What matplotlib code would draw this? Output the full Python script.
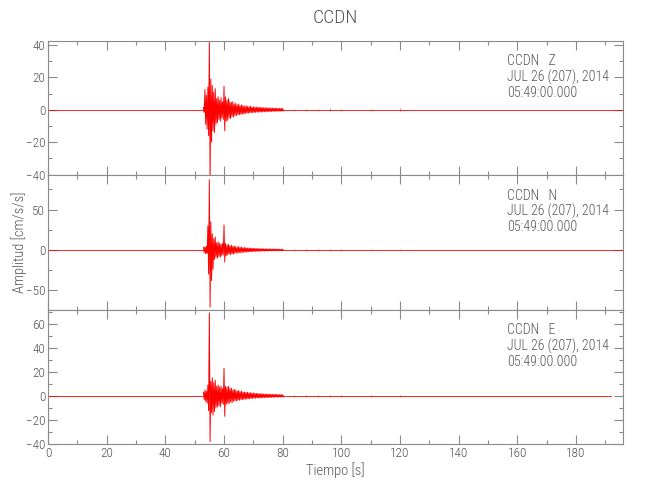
import numpy as np
import matplotlib
matplotlib.use("Agg")
import matplotlib.pyplot as plt
from matplotlib import font_manager
from matplotlib.ticker import MultipleLocator

# pick the narrowest family that is installed
names = set(f.name for f in font_manager.fontManager.ttflist)
fams = [f for f in ['Liberation Sans Narrow', 'Roboto Condensed', 'DejaVu Sans Condensed',
                    'Liberation Sans'] if f in names]
plt.rcParams['font.family'] = fams + ['DejaVu Sans']
plt.rcParams['font.weight'] = 'light'
plt.rcParams['axes.labelweight'] = 'light'

# envelope bins (s), 0.5 s apart
t_env = [53.0, 53.5, 54.0, 54.5, 55.0, 55.5, 56.0, 56.5, 57.0, 57.5,
         58.0, 58.5, 59.0, 59.5, 60.0, 60.5, 61.0, 61.5, 62.0, 62.5,
         63.0, 63.5, 64.0, 64.5, 65.0, 65.5, 66.0, 66.5, 67.0, 67.5,
         68.0, 68.5, 69.0, 69.5, 70.0, 70.5, 71.0, 71.5, 72.0, 72.5,
         73.0, 73.5, 74.0, 74.5, 75.0, 75.5, 76.0, 76.5, 77.0, 77.5,
         78.0, 78.5, 79.0, 79.5, 80.0]

z_up = [1.5, 12.5, 9, 14, 42, 19, 15, 11, 13, 7,
        8, 6, 7.5, 5, 14.5, 8, 6, 7, 5, 4.5,
        5, 3.5, 4, 3, 3.5, 2.5, 3, 2.5, 2, 2.5,
        2, 1.8, 2.2, 1.6, 1.8, 1.5, 1.7, 1.4, 1.6, 1.3,
        1.4, 1.2, 1.3, 1.1, 1.2, 1.0, 1.1, 1.0, 0.9, 1.0,
        0.9, 0.8, 0.9, 0.8, 0.8]
z_lo = [-1.5, -9, -12, -16, -44, -20, -13, -14, -9, -8,
        -6, -7, -5, -6, -13, -7, -6.5, -5, -5.5, -4,
        -4.5, -3.5, -3.5, -3, -3, -2.8, -2.5, -2.6, -2.2, -2,
        -2.1, -1.8, -1.7, -1.8, -1.5, -1.6, -1.4, -1.5, -1.3, -1.4,
        -1.2, -1.3, -1.1, -1.2, -1.0, -1.1, -1.0, -0.9, -1.0, -0.9,
        -0.8, -0.9, -0.8, -0.8, -0.7]

n_up = [3, 4, 4.5, 30, 87, 35, 20, 14, 16, 9,
        10, 8, 7, 8, 31, 8, 6, 7, 5, 6,
        4.5, 5, 4, 3.5, 4, 3, 3.5, 2.5, 3, 2.5,
        2.2, 2.5, 2, 2.2, 1.8, 2.0, 1.6, 1.8, 1.5, 1.6,
        1.4, 1.5, 1.3, 1.4, 1.2, 1.3, 1.2, 1.1, 1.2, 1.0,
        1.1, 1.0, 0.9, 1.0, 0.9]
n_lo = [-3, -4.5, -4, -30, -71, -38, -24, -12, -9, -10,
        -8, -9, -7, -6, -15, -7, -6, -5, -6, -4.5,
        -5, -4, -3.5, -4, -3, -3.5, -2.8, -3, -2.5, -2.6,
        -2.2, -2, -2.1, -1.8, -1.9, -1.6, -1.7, -1.5, -1.5, -1.4,
        -1.3, -1.4, -1.2, -1.2, -1.1, -1.2, -1.0, -1.1, -1.0, -0.9,
        -1.0, -0.9, -0.9, -0.8, -0.8]

e_up = [3, 5, 4, 9, 69, 12, 15, 11, 13, 8,
        9, 7.5, 8, 6, 23, 8, 7, 8, 6, 6.5,
        5, 5.5, 4.5, 4, 4.5, 3.5, 4, 3, 3.2, 2.8,
        3, 2.5, 2.6, 2.2, 2.4, 2.0, 2.1, 1.8, 1.9, 1.7,
        1.8, 1.5, 1.6, 1.4, 1.5, 1.3, 1.4, 1.2, 1.3, 1.1,
        1.2, 1.0, 1.1, 1.0, 1.0]
e_lo = [-3, -4.5, -6, -12, -38, -14, -16, -13, -10, -9,
        -8, -9, -6, -7, -17, -7, -6, -6.5, -5, -5.5,
        -4.5, -4, -4.2, -3.5, -3.6, -3, -3.2, -2.8, -2.6, -2.7,
        -2.3, -2.4, -2.0, -2.1, -1.8, -1.9, -1.7, -1.6, -1.7, -1.5,
        -1.5, -1.4, -1.4, -1.3, -1.2, -1.3, -1.2, -1.1, -1.1, -1.0,
        -1.0, -1.0, -0.9, -0.9, -0.9]

# late coda, coarser bins
t_tail = [84, 88, 92, 96, 100, 110, 120]
z_tail = [0.7, 0.6, 0.6, 1.0, 0.6, 0.5, 0.8]
n_tail = [0.8, 0.7, 0.7, 1.2, 0.7, 0.6, 0.6]
e_tail = [0.9, 0.8, 0.8, 1.1, 0.7, 0.6, 0.6]

channels = ['Z', 'N', 'E']
ylims = [(-40.5, 42.5), (-74, 92.5), (-40, 71.7)]
ymajor = [20, 50, 20]
yminor = [10, 25, 10]
t_end = [196, 196, 192]
station = 'CCDN'
date_txt = 'JUL 26 (207), 2014'
time_txt = '05:49:00.000'

text_col = '#555555'
frame_col = '#8a8a8a'


def zigzag(t, up, lo):
    # alternate the peak and trough of each bin so the trace looks dense
    t = np.asarray(t, dtype=float)
    xs = np.column_stack([t, t + 0.25]).ravel()
    ys = np.column_stack([up, lo]).ravel()
    return xs, ys


fig = plt.figure(figsize=(6.5, 5), dpi=100)
axes = fig.subplots(3, 1, sharex=True)
fig.subplots_adjust(left=48 / 650, right=623 / 650, top=1 - 41 / 500,
                    bottom=1 - 444 / 500, hspace=0)

ups = [z_up, n_up, e_up]
los = [z_lo, n_lo, e_lo]
tails = [z_tail, n_tail, e_tail]

for i, ax in enumerate(axes):
    ax.plot([0, t_end[i]], [0, 0], color='red', lw=0.6)
    xs, ys = zigzag(t_env, ups[i], los[i])
    ax.plot(xs, ys, color='red', lw=0.7, clip_on=False)
    tt = np.asarray(t_tail, dtype=float)
    ax.vlines(tt, -np.asarray(tails[i]), tails[i], color='red', lw=0.6, alpha=0.6)

    ax.set_xlim(0, 196)
    ax.set_ylim(*ylims[i])
    ax.xaxis.set_major_locator(MultipleLocator(20))
    ax.xaxis.set_minor_locator(MultipleLocator(10))
    ax.yaxis.set_major_locator(MultipleLocator(ymajor[i]))
    ax.yaxis.set_minor_locator(MultipleLocator(yminor[i]))
    ax.tick_params(which='both', direction='in', top=True, right=True,
                   color=frame_col, labelcolor=text_col, labelsize=9.5, pad=2)
    ax.tick_params(which='major', length=6.5, width=0.8)
    ax.tick_params(which='minor', length=3, width=0.8)
    for s in ax.spines.values():
        s.set_color(frame_col)
        s.set_linewidth(0.8)

    ax.text(0.798, 0.9, station + '   ' + channels[i] + '\n' + date_txt + '\n' + time_txt,
            transform=ax.transAxes, ha='left', va='top', fontsize=10,
            color=text_col, linespacing=1.1)

axes[-1].set_xlabel('Tiempo [s]', fontsize=10.5, color=text_col, labelpad=2,
                    fontweight='light')
fig.text(0.03, 0.516, 'Amplitud [cm/s/s]', rotation=90, ha='center', va='center',
         fontsize=10.5, color=text_col)
fig.text(0.516, 0.964, 'CCDN', ha='center', va='center', fontsize=14, color=text_col)

fig.savefig('out.png', dpi=100)
